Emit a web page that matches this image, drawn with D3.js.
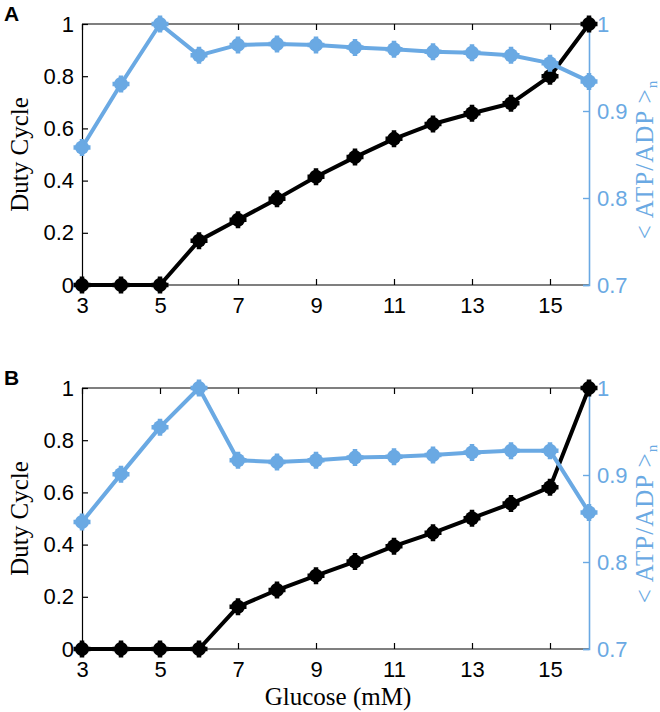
<!DOCTYPE html>
<html><head><meta charset="utf-8">
<script src="https://cdn.jsdelivr.net/npm/d3@7"></script>
<style>body{margin:0;background:#fff}svg{display:block}</style>
</head><body>
<script>
const glucose = [3,4,5,6,7,8,9,10,11,12,13,14,15,16];
const dutyA = [0,0,0,0.17,0.25,0.33,0.415,0.49,0.56,0.617,0.658,0.696,0.80,1.0];
const atpA  = [0.858,0.931,1.0,0.964,0.976,0.977,0.976,0.973,0.971,0.968,0.967,0.964,0.955,0.934];
const dutyB = [0,0,0,0,0.162,0.226,0.281,0.335,0.394,0.445,0.501,0.557,0.62,1.0];
const atpB  = [0.846,0.901,0.955,1.0,0.917,0.915,0.917,0.920,0.921,0.923,0.926,0.928,0.928,0.857];
const xTicks = [3,5,7,9,11,13,15];
const leftTicks = [0,0.2,0.4,0.6,0.8,1];
const rightTicks = [0.7,0.8,0.9,1];
const leftTickLabels = ["0","0.2","0.4","0.6","0.8","1"];
const rightTickLabels = ["0.7","0.8","0.9","1"];

const W=660,H=712, blue="#6aa9e3";
const svg=d3.select("body").append("svg").attr("width",W).attr("height",H);
const sans="'Liberation Sans', Arial, sans-serif", serif="'Liberation Serif','Times New Roman',serif";
const fsT=22;

function panel(label, top, duty, atp){
  const L=82,R=589,T=top,B=top+261;
  const x=d3.scaleLinear().domain([3,16]).range([L,R]);
  const yl=d3.scaleLinear().domain([0,1]).range([B,T]);
  const yr=d3.scaleLinear().domain([0.7,1]).range([B,T]);
  const g=svg.append("g");
  g.append("line").attr("x1",L).attr("x2",R).attr("y1",T).attr("y2",T).attr("stroke","#000").attr("stroke-width",1.2);
  const xa=g.append("g").attr("transform",`translate(0,${B})`)
    .call(d3.axisBottom(x).tickValues(xTicks).tickSize(-6).tickPadding(12).tickFormat(d3.format("d")));
  const xt=g.append("g").attr("transform",`translate(0,${T})`)
    .call(d3.axisTop(x).tickValues(xTicks).tickSize(-6).tickFormat(""));
  const ya=g.append("g").attr("transform",`translate(${L},0)`)
    .call(d3.axisLeft(yl).tickValues(leftTicks).tickSize(-6).tickPadding(8).tickFormat((d,i)=>leftTickLabels[i]));
  const ra=g.append("g").attr("transform",`translate(${R},0)`)
    .call(d3.axisRight(yr).tickValues(rightTicks).tickSize(-6).tickPadding(8).tickFormat((d,i)=>rightTickLabels[i]));
  [xa,xt,ya].forEach(a=>{a.select(".domain").attr("stroke","#000").attr("stroke-width",1.2);
    a.selectAll(".tick line").attr("stroke","#000").attr("stroke-width",1.2);
    a.selectAll("text").attr("font-family",sans).attr("font-size",fsT).attr("fill","#000");});
  xt.select(".domain").remove();
  ra.select(".domain").attr("stroke",blue).attr("stroke-width",1.6);
  ra.selectAll(".tick line").attr("stroke",blue).attr("stroke-width",1.4);
  ra.selectAll("text").attr("font-family",sans).attr("font-size",fsT).attr("fill",blue);
  xa.select(".domain").attr("d",`M${L},0H${R}`);

  function series(vals, ys, color){
    const line=d3.line().x((d,i)=>x(glucose[i])).y(d=>ys(d));
    g.append("path").datum(vals).attr("d",line).attr("fill","none").attr("stroke",color).attr("stroke-width",4).attr("stroke-linejoin","round");
    const m=g.selectAll(null).data(vals).enter().append("g")
      .attr("transform",(d,i)=>`translate(${x(glucose[i])},${ys(d)})`);
    m.append("circle").attr("r",7).attr("fill",color);
    m.append("path").attr("d","M-8.5,0H8.5M0,-8.5V8.5").attr("stroke",color).attr("stroke-width",4.5);
  }
  series(duty, yl, "#000");
  series(atp, yr, blue);

  svg.append("text").attr("x",4).attr("y",top-3).attr("font-family",sans).attr("font-weight","bold").attr("font-size",21).text(label);
  svg.append("text").attr("transform",`translate(28,${(T+B)/2}) rotate(-90)`).attr("text-anchor","middle")
    .attr("font-family",serif).attr("font-size",25).text("Duty Cycle");
  const rt=svg.append("text").attr("transform",`translate(653,${(T+B)/2+5}) rotate(-90)`).attr("text-anchor","middle")
    .attr("font-family",serif).attr("font-size",25).attr("letter-spacing",1).attr("fill",blue);
  rt.append("tspan").text("< ATP/ADP >");
  rt.append("tspan").attr("font-size",15).attr("dy",4).text("n");
}
panel("A",24,dutyA,atpA);
panel("B",388,dutyB,atpB);
svg.append("text").attr("x",338).attr("y",705).attr("text-anchor","middle").attr("font-family",serif).attr("font-size",25).text("Glucose (mM)");
</script>
</body></html>
